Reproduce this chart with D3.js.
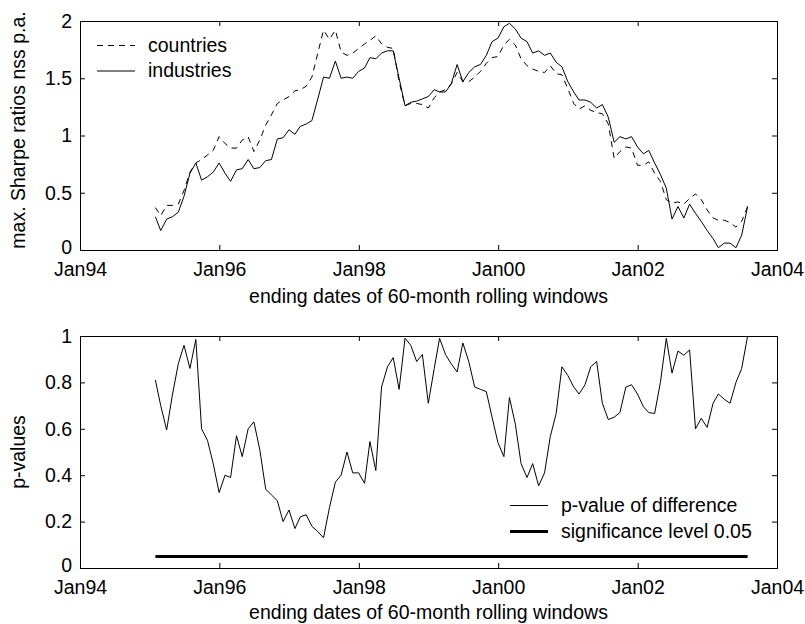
<!DOCTYPE html>
<html>
<head>
<meta charset="utf-8">
<script src="https://cdn.jsdelivr.net/npm/d3@7"></script>
<style>
body { margin: 0; background: #fff; }
svg { display: block; font-family: "Liberation Sans", Arial, sans-serif; }
</style>
</head>
<body>
<div id="chart"></div>
<script>
'use strict';

// monthly window end dates start at end of Jan 1995
const firstYear = 1995;
const firstMonth = 0;

const countries = [
    0.37, 0.30, 0.39, 0.39, 0.40, 0.52, 0.68, 0.76, 0.79, 0.83,
    0.87, 0.99, 0.93, 0.89, 0.89, 0.96, 0.99, 0.86, 0.96, 1.09,
    1.18, 1.28, 1.31, 1.34, 1.39, 1.40, 1.43, 1.51, 1.72, 1.92,
    1.84, 1.92, 1.73, 1.70, 1.72, 1.76, 1.80, 1.83, 1.87, 1.80,
    1.77, 1.76, 1.47, 1.26, 1.28, 1.28, 1.27, 1.24, 1.33, 1.38,
    1.40, 1.45, 1.55, 1.47, 1.47, 1.51, 1.56, 1.63, 1.68, 1.69,
    1.79, 1.84, 1.79, 1.67, 1.61, 1.58, 1.56, 1.55, 1.61, 1.54,
    1.53, 1.41, 1.28, 1.23, 1.26, 1.22, 1.20, 1.19, 1.10, 0.80,
    0.86, 0.90, 0.89, 0.74, 0.74, 0.77, 0.67, 0.60, 0.44, 0.41,
    0.42, 0.40, 0.45, 0.49, 0.44, 0.35, 0.28, 0.26, 0.26, 0.24,
    0.20, 0.25, 0.38
];

const industries = [
    0.29, 0.17, 0.27, 0.29, 0.33, 0.47, 0.67, 0.76, 0.61, 0.64,
    0.68, 0.76, 0.67, 0.60, 0.70, 0.71, 0.79, 0.71, 0.72, 0.78,
    0.79, 0.97, 0.98, 1.05, 1.01, 1.08, 1.10, 1.13, 1.32, 1.51,
    1.50, 1.65, 1.50, 1.51, 1.50, 1.56, 1.59, 1.68, 1.67, 1.72,
    1.74, 1.74, 1.50, 1.26, 1.29, 1.30, 1.32, 1.34, 1.40, 1.38,
    1.38, 1.45, 1.62, 1.47, 1.55, 1.60, 1.62, 1.70, 1.82, 1.85,
    1.95, 1.98, 1.93, 1.85, 1.82, 1.72, 1.74, 1.70, 1.72, 1.64,
    1.60, 1.47, 1.38, 1.31, 1.31, 1.29, 1.24, 1.27, 1.16, 0.94,
    0.99, 0.97, 0.99, 0.90, 0.84, 0.87, 0.76, 0.66, 0.54, 0.27,
    0.38, 0.28, 0.40, 0.32, 0.25, 0.17, 0.10, 0.02, 0.06, 0.06,
    0.02, 0.13, 0.38
];

const pvalues = [
    0.81, 0.70, 0.595, 0.745, 0.88, 0.96, 0.86, 0.985, 0.60, 0.55,
    0.45, 0.325, 0.40, 0.39, 0.57, 0.48, 0.60, 0.63, 0.51, 0.34,
    0.315, 0.29, 0.20, 0.25, 0.17, 0.22, 0.23, 0.18, 0.157, 0.13,
    0.26, 0.37, 0.40, 0.50, 0.41, 0.41, 0.365, 0.545, 0.42, 0.78,
    0.867, 0.907, 0.77, 0.99, 0.96, 0.89, 0.92, 0.71, 0.86, 0.99,
    0.92, 0.88, 0.845, 0.97, 0.89, 0.78, 0.77, 0.76, 0.65, 0.54,
    0.48, 0.735, 0.62, 0.45, 0.39, 0.45, 0.354, 0.41, 0.566, 0.666,
    0.867, 0.83, 0.78, 0.75, 0.79, 0.867, 0.89, 0.71, 0.64, 0.65,
    0.67, 0.78, 0.79, 0.75, 0.695, 0.67, 0.666, 0.80, 0.99, 0.84,
    0.935, 0.917, 0.94, 0.60, 0.645, 0.606, 0.71, 0.75, 0.727, 0.71,
    0.80, 0.86, 1.00
];

const sigLevel = 0.05;
const xTickYears = [1994, 1996, 1998, 2000, 2002, 2004];
const topTicks = [0, 0.5, 1, 1.5, 2];
const bottomTicks = [0, 0.2, 0.4, 0.6, 0.8, 1];
const xLabel = 'ending dates of 60-month rolling windows';

const width = 805;
const height = 624;
const left = 80;
const right = 777;
const fontSize = 19.5;

let dates = countries.map(function (d, i) {
    return new Date(firstYear, firstMonth + i + 1, 0);
});

let svg = d3.select('#chart').append('svg')
    .attr('width', width)
    .attr('height', height);

let x = d3.scaleTime()
    .domain([new Date(xTickYears[0], 0, 1), new Date(xTickYears[xTickYears.length - 1], 0, 1)])
    .range([left, right]);

let xTickDates = xTickYears.map(function (yr) { return new Date(yr, 0, 1); });

function fixFont(sel) {
    sel.attr('font-size', fontSize).attr('font-family', null);
    sel.select('.domain').remove();
}

function drawPanel(top, bottom, domain, ticks, fmt, ylabel, ylabelY, xlabelY) {
    let y = d3.scaleLinear().domain(domain).range([bottom, top]);

    svg.append('g')
        .attr('transform', 'translate(0,' + bottom + ')')
        .call(d3.axisBottom(x).tickValues(xTickDates).tickFormat(d3.timeFormat('Jan%y'))
            .tickSizeInner(-5).tickSizeOuter(0).tickPadding(12))
        .call(fixFont);

    svg.append('g')
        .attr('transform', 'translate(0,' + top + ')')
        .call(d3.axisTop(x).tickValues(xTickDates).tickFormat('')
            .tickSizeInner(-5).tickSizeOuter(0))
        .call(fixFont);

    let yAxis = svg.append('g')
        .attr('transform', 'translate(' + left + ',0)')
        .call(d3.axisLeft(y).tickValues(ticks).tickFormat(fmt)
            .tickSizeInner(-5).tickSizeOuter(0).tickPadding(8))
        .call(fixFont);

    // lift the zero label a little so it clears the date labels
    yAxis.selectAll('.tick text')
        .filter(function (d) { return d === domain[0]; })
        .attr('y', -3);

    svg.append('g')
        .attr('transform', 'translate(' + right + ',0)')
        .call(d3.axisRight(y).tickValues(ticks).tickFormat('')
            .tickSizeInner(-5).tickSizeOuter(0))
        .call(fixFont);

    svg.append('rect')
        .attr('x', left + 0.5)
        .attr('y', top + 0.5)
        .attr('width', right - left)
        .attr('height', bottom - top)
        .attr('fill', 'none')
        .attr('stroke', 'black')
        .attr('stroke-width', 1);

    svg.append('text')
        .text(ylabel)
        .attr('transform', 'translate(25,' + ylabelY + ') rotate(-90)')
        .attr('text-anchor', 'middle')
        .attr('font-size', fontSize);

    svg.append('text')
        .text(xLabel)
        .attr('x', (left + right) / 2)
        .attr('y', xlabelY)
        .attr('text-anchor', 'middle')
        .attr('font-size', fontSize);

    return y;
}

function addLine(y, values, dash, w) {
    let line = d3.line()
        .x(function (d, i) { return x(dates[i]); })
        .y(function (d) { return y(d); });

    svg.append('path')
        .datum(values)
        .attr('fill', 'none')
        .attr('stroke', 'black')
        .attr('stroke-width', w)
        .attr('stroke-linejoin', 'round')
        .attr('stroke-dasharray', dash)
        .attr('d', line);
}

function addLegendItem(x1, x2, ly, label, dash, w) {
    svg.append('line')
        .attr('x1', x1).attr('x2', x2)
        .attr('y1', ly).attr('y2', ly)
        .attr('stroke', 'black')
        .attr('stroke-width', w)
        .attr('stroke-dasharray', dash);
    svg.append('text')
        .text(label)
        .attr('x', x2 + 13)
        .attr('y', ly + 6)
        .attr('font-size', fontSize);
}

// top panel
let yTop = drawPanel(21, 250, [0, 2], topTicks, d3.format('~g'), 'max. Sharpe ratios nss p.a.', 130, 303);
addLine(yTop, countries, '6,5', 1);
addLine(yTop, industries, null, 1);
addLegendItem(97, 135, 45.5, 'countries', '6,5', 1);
addLegendItem(97, 135, 71, 'industries', null, 1);

// bottom panel
let yBot = drawPanel(336, 568, [0, 1], bottomTicks, d3.format('~g'), 'p-values', 452, 619);
addLine(yBot, pvalues, null, 1);
addLine(yBot, dates.map(function () { return sigLevel; }), null, 3);
addLegendItem(510, 548, 505.5, 'p-value of difference', null, 1);
addLegendItem(510, 548, 531.5, 'significance level 0.05', null, 3);
</script>
</body>
</html>
